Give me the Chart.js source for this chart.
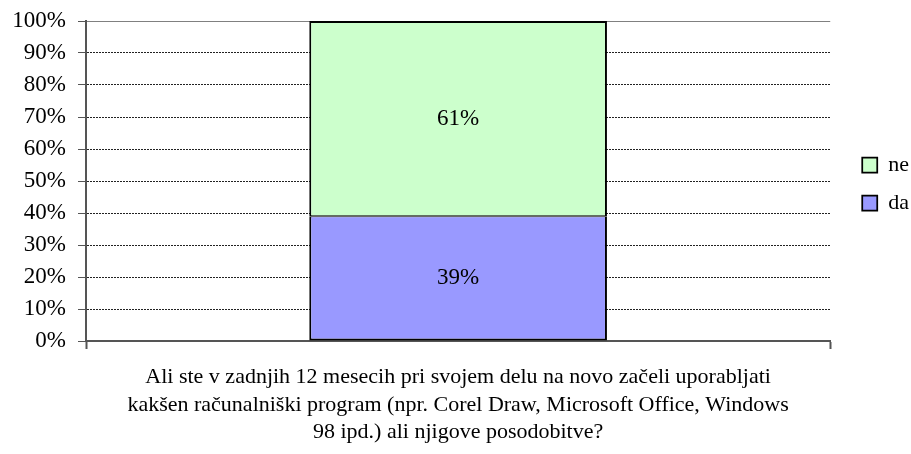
<!DOCTYPE html>
<html>
<head>
<meta charset="utf-8">
<script src="https://cdn.jsdelivr.net/npm/chart.js@4/dist/chart.umd.min.js"></script>
<style>
html,body{margin:0;padding:0;background:#fff;}
#wrap{width:911px;height:454px;position:relative;}
</style>
</head>
<body>
<div id="wrap"><canvas id="c" width="911" height="454"></canvas></div>
<script>
const categories = [''];
const seriesNames = ['da', 'ne'];
const daValues = [39];
const neValues = [61];
const axisTitle = [
  'Ali ste v zadnjih 12 mesecih pri svojem delu na novo začeli uporabljati',
  'kakšen računalniški program (npr. Corel Draw, Microsoft Office, Windows',
  '98 ipd.) ali njigove posodobitve?'
];
const yTickMin = 0, yTickMax = 100, yTickStep = 10;

const FONT = '"Liberation Serif", "Times New Roman", serif';

const dataLabels = {
  id: 'dataLabels',
  afterDatasetsDraw(chart) {
    const ctx = chart.ctx;
    ctx.save();
    ctx.font = '23px ' + FONT;
    ctx.fillStyle = '#000';
    ctx.textAlign = 'center';
    ctx.textBaseline = 'middle';
    chart.data.datasets.forEach((ds, i) => {
      const meta = chart.getDatasetMeta(i);
      meta.data.forEach((bar, j) => {
        const y = (bar.y + bar.base) / 2;
        ctx.fillText(ds.data[j] + '%', bar.x, y);
      });
    });
    ctx.restore();
  }
};

const legendShift = {
  id: 'legendShift',
  afterLayout(chart) {
    if (chart.legend) {
      chart.legend.left += 16; chart.legend.right += 16;
      chart.legend.top += 3; chart.legend.bottom += 3;
    }
  }
};

new Chart(document.getElementById('c'), {
  type: 'bar',
  data: {
    labels: categories,
    datasets: [
      { label: seriesNames[0], data: daValues, backgroundColor: '#9999FF', borderColor: '#000',
        borderWidth: { left: 2, right: 2, bottom: 2, top: 1 }, borderSkipped: false },
      { label: seriesNames[1], data: neValues, backgroundColor: '#CCFFCC', borderColor: '#000',
        borderWidth: { left: 2, right: 2, top: 2, bottom: 1 }, borderSkipped: false }
    ]
  },
  options: {
    responsive: false,
    animation: false,
    events: [],
    devicePixelRatio: 1,
    layout: { padding: { top: 21, left: 0, right: 8, bottom: 0 } },
    datasets: { bar: { categoryPercentage: 1, barPercentage: 0.4 } },
    plugins: {
      tooltip: { enabled: false },
      legend: {
        position: 'right',
        fullSize: false,
        reverse: true,
        labels: { boxWidth: 15, boxHeight: 15, padding: 16, color: '#000', font: { family: FONT, size: 22 } }
      }
    },
    scales: {
      x: {
        stacked: true,
        offset: true,
        grid: { display: true, offset: true, drawOnChartArea: false, drawTicks: true, tickLength: 8, tickColor: '#555', tickWidth: 2 },
        border: { display: true, color: '#555', width: 2 },
        ticks: { display: false },
        title: { display: true, text: axisTitle, color: '#000', font: { family: FONT, size: 22, lineHeight: 1.25 }, padding: { top: 0, bottom: 8 } },
        afterFit(scale) { scale.height = 113; }
      },
      y: {
        stacked: true,
        min: yTickMin,
        max: yTickMax,
        ticks: { stepSize: yTickStep, color: '#000', padding: 12, font: { family: FONT, size: 23 }, callback: v => v + '%' },
        grid: {
          color: c => (c.tick && c.tick.value === 100) ? '#808080' : '#222',
          lineWidth: 1,
          tickLength: 8,
          tickColor: '#555',
          tickWidth: 1
        },
        border: { display: true, color: '#555', width: 2, dash: c => (c.tick && c.tick.value === 100) ? [] : [2, 1] },
        afterFit(scale) { scale.width = 86; scale.paddingTop = 0; scale.paddingBottom = 0; }
      }
    }
  },
  plugins: [dataLabels, legendShift]
});
</script>
</body>
</html>
